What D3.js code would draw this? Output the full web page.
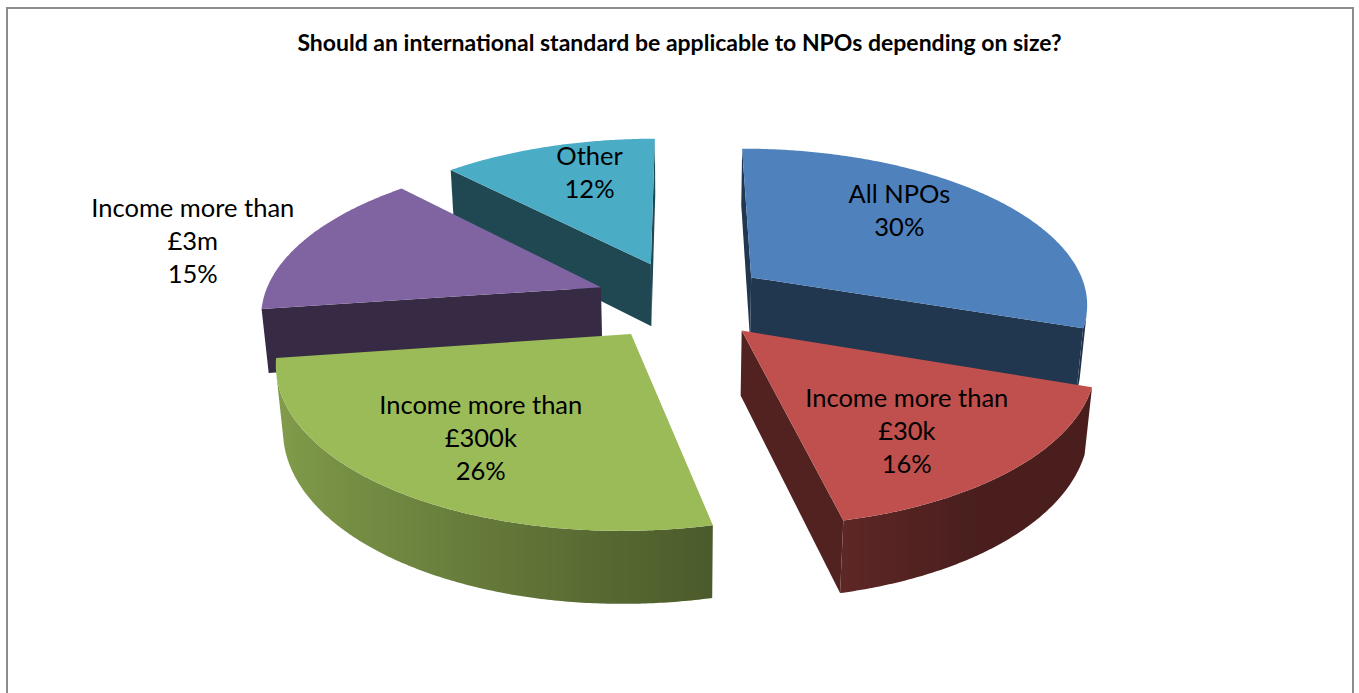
<!DOCTYPE html>
<html>
<head>
<meta charset="utf-8">
<script src="https://cdn.jsdelivr.net/npm/d3@7"></script>
<style>
  body { margin: 0; background: #fff; }
  svg { display: block; }
</style>
</head>
<body>
<div id="chart"></div>
<script>
const title = "Should an international standard be applicable to NPOs depending on size?";
const categories = ["All NPOs", "Income more than\n£30k", "Income more than\n£300k", "Income more than\n£3m", "Other"];
const values = [30, 16, 26, 15, 12];
const colors = ["#4F81BD", "#C0504D", "#9BBB59", "#8064A2", "#4BACC6"];

// where each label sits: distance from the slice tip (in radii) and turn from the mid angle (deg)
const labelRadius = [0.69, 0.70, 0.69, 1.33, 0.73];
const labelTurn = [-8.6, 5.3, -1.4, -5.5, 4.5];

const width = 1359, height = 693;

const svg = d3.select("#chart")
    .append("svg")
    .attr("width", width)
    .attr("height", height);

const defs = svg.append("defs");

// chart frame (bottom edge runs off the picture)
svg.append("rect")
    .attr("x", 7)
    .attr("y", 8)
    .attr("width", 1346)
    .attr("height", height + 20)
    .attr("fill", "#fff")
    .attr("stroke", "#8c8c8c")
    .attr("stroke-width", 2);

svg.append("text")
    .attr("x", 679.5)
    .attr("y", 51)
    .attr("text-anchor", "middle")
    .style("font", "bold 23px Lato, sans-serif")
    .attr("fill", "#000")
    .text(title);

// simple perspective camera for the 3d pie
const cam = { cx: 682, cy: 300, k: 338, tilt: 27.3 * Math.PI / 180, persp: 6.5 };
const thickness = 0.215, explode = 0.257;
const sT = Math.sin(cam.tilt), cT = Math.cos(cam.tilt), tT = sT / cT;
const eye = [0, cam.persp * cT * sT, -cam.persp * cT * cT];

function project(p) {
    const [X, Y, Z] = p;
    const g = cam.persp / (cam.persp + Z - Y * tT);
    return [cam.cx + cam.k * X * g, cam.cy - cam.k * (Y * cT + Z * sT) * g];
}

function facesEye(n, p) {
    return n[0] * (eye[0] - p[0]) + n[1] * (eye[1] - p[1]) + n[2] * (eye[2] - p[2]) > 0;
}

function shade(hex, f) {
    const c = d3.color(hex);
    c.r *= f; c.g *= f; c.b *= f;
    return c.formatHex();
}

// light from the left: outer wall gets darker as it turns right
const wallShade = a => Math.max(0.38, Math.min(0.9, 0.55 - 0.3 * Math.sin(a)));

const data = categories.map((c, i) => ({ name: c, value: values[i], color: colors[i], idx: i }));
const total = d3.sum(values);
const pct = d3.format(".0%");

const arcs = d3.pie().sort(null).value(d => d.value)(data);
arcs.forEach(a => {
    a.mid = (a.startAngle + a.endAngle) / 2;
    a.off = [explode * Math.sin(a.mid), 0, explode * Math.cos(a.mid)];
});

const pt = (a, ang, r, y) => [a.off[0] + r * Math.sin(ang), y, a.off[2] + r * Math.cos(ang)];

const line = d3.line();
const toPath = pts => line(pts.map(project)) + "Z";

// paint far slices first
const order = arcs.slice().sort((a, b) => pt(b, b.mid, 0.5, 0)[2] - pt(a, a.mid, 0.5, 0)[2]);

const pieG = svg.append("g");
let gradId = 0;

order.forEach(a => {
    const a0 = a.startAngle, a1 = a.endAngle;
    const steps = Math.max(2, Math.ceil((a1 - a0) / (Math.PI / 360)));
    const angs = d3.range(steps + 1).map(i => a0 + (a1 - a0) * i / steps);
    const faces = [];
    const tipTop = [a.off[0], 0, a.off[2]];
    const tipBot = [a.off[0], -thickness, a.off[2]];
    const side = shade(a.data.color, 0.42);

    // radial cut faces
    const n0 = [-Math.cos(a0), 0, Math.sin(a0)];
    if (facesEye(n0, tipTop)) {
        faces.push({ pts: [tipTop, pt(a, a0, 1, 0), pt(a, a0, 1, -thickness), tipBot], fill: side });
    }
    const n1 = [Math.cos(a1), 0, -Math.sin(a1)];
    if (facesEye(n1, tipTop)) {
        faces.push({ pts: [tipTop, pt(a, a1, 1, 0), pt(a, a1, 1, -thickness), tipBot], fill: side });
    }

    // outer wall: group the visible strips into runs, each drawn as one shape with a gradient
    const visible = d3.range(steps).map(i => {
        const m = (angs[i] + angs[i + 1]) / 2;
        return facesEye([Math.sin(m), 0, Math.cos(m)], pt(a, m, 1, -thickness / 2));
    });
    const runs = [];
    visible.forEach((v, i) => {
        if (!v) return;
        const last = runs[runs.length - 1];
        if (last && last[1] === i) last[1] = i + 1;
        else runs.push([i, i + 1]);
    });
    runs.forEach(([i0, i1]) => {
        const idx = d3.range(i0, i1 + 1);
        const top = idx.map(j => pt(a, angs[j], 1, 0));
        const bot = idx.map(j => pt(a, angs[j], 1, -thickness)).reverse();
        const xs = top.map(p => project(p)[0]);
        const xMin = d3.min(xs), xMax = d3.max(xs);
        const id = "wall" + (gradId++);
        const stops = idx.map((j, k) => ({
            off: xMax > xMin ? (xs[k] - xMin) / (xMax - xMin) : 0,
            col: shade(a.data.color, wallShade(angs[j]))
        })).sort((p, q) => p.off - q.off);
        defs.append("linearGradient")
            .attr("id", id)
            .attr("gradientUnits", "userSpaceOnUse")
            .attr("x1", xMin).attr("x2", xMax)
            .attr("y1", 0).attr("y2", 0)
            .selectAll("stop")
            .data(stops)
            .join("stop")
            .attr("offset", d => d.off)
            .attr("stop-color", d => d.col);
        faces.push({ pts: top.concat(bot), fill: `url(#${id})` });
    });

    // top
    faces.push({ pts: [tipTop].concat(angs.map(t => pt(a, t, 1, 0))), fill: a.data.color });

    pieG.append("g")
        .selectAll("path")
        .data(faces)
        .join("path")
        .attr("d", d => toPath(d.pts))
        .attr("fill", d => d.fill)
        .attr("stroke", "none");
});

// data labels
const lineGap = 33;
const labelG = svg.append("g")
    .style("font", "25.5px Lato, sans-serif")
    .attr("fill", "#000")
    .attr("text-anchor", "middle");

arcs.forEach(a => {
    const i = a.data.idx;
    const ang = a.mid + labelTurn[i] * Math.PI / 180;
    const [x, y] = project(pt(a, ang, labelRadius[i], 0));
    const lines = a.data.name.split("\n").concat(pct(a.value / total));
    const t = labelG.append("text");
    lines.forEach((s, j) => {
        t.append("tspan")
            .attr("x", x)
            .attr("y", y + (j - (lines.length - 1) / 2) * lineGap + 8)
            .text(s);
    });
});
</script>
</body>
</html>
